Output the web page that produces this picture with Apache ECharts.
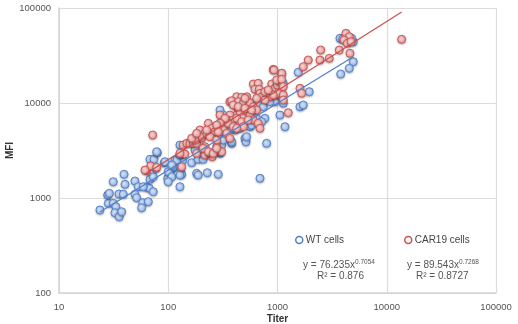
<!DOCTYPE html>
<html>
<head>
<meta charset="utf-8">
<script src="https://cdn.jsdelivr.net/npm/echarts@6/dist/echarts.min.js"></script>
<style>
html,body{margin:0;padding:0;background:#fff;}
#c{width:518px;height:324px;}
</style>
</head>
<body>
<div id="c"></div>
<script>
// ---- Data ----
var xTicks = [10, 100, 1000, 10000, 100000];
var yTicks = [100, 1000, 10000, 100000];

var wtTiter = [23.7,28.3,27.9,28.9,31.4,39.4,40.2,35.4,38.8,31.4,33.2,32.5,35.6,37.5,49.6,53.2,49.6,51.4,58.4,65.7,57.1,63.5,67.1,73.0,68.1,73.0,77.3,68.1,74.1,79.4,92.0,98.9,104,110,115,128,133,130,136,164,188,209,182,188,228,287,298,692,78.4,93.4,111,120,128,128,298,319,309,381,408,454,601,667,741,949,1130,1054,1017,1171,560,381,504,515,796,768,3734,3953,4941,4778,4941,4542,3789,1550,1955,1607,1723,1093,1130,176,209,298,309,319,298,854,645,381,454,580,522,717,319,100,108,108,100,128,59];
var wtMFI   = [748,880,1075,1121,1484,1776,1394,1102,1094,880,810,700,636,717,1510,1315,1094,1007,892,914,790,1315,1265,1165,1574,1676,2054,2555,2555,2998,2353,1613,1846,2054,2512,1315,1776,2054,2512,2353,2555,2555,1820,1746,1846,1776,2955,1613,3072,2411,2135,2512,2836,3613,8439,7475,4988,3765,5197,7790,9526,9927,9143,10320,9927,7475,13150,5630,5630,3914,4250,3900,3765,6901,47990,47180,44190,47990,27210,23190,20200,21050,13150,9143,9526,20540,16120,3201,2955,3072,3613,5630,6114,10320,6901,5416,5416,5867,4418,6356,4079,1892,2226,1676,1484,1746,1315];

var carTiter = [63.5,69.1,78.4,133,133,142,182,217,253,238,287,72.1,61.3,137,148,158,170,182,202,195,217,233,250,268,298,319,241,217,278,309,367,408,438,423,367,347,394,298,355,916,1093,601,667,622,681,885,949,996,1054,796,854,983,1093,692,717,768,423,470,523,381,438,486,560,601,645,523,454,331,298,225,195,278,486,560,601,667,692,1256,4236,4542,4062,4354,4708,4609,3679,2485,2449,2979,1913,1723,929,983,1093,1130,1607,1017,1130,1665,916,1130,13703,128,176,164,182,209,233,258,278,278,504,768,824,645,394,438,504,580,423,470,540,394,486,423,343,287,367];
var carMFI   = [1938,2172,2105,2135,2906,2906,2955,2836,2721,2998,3201,4604,1971,3613,3765,3765,3765,3765,4250,5197,4798,6114,5416,4988,5867,5416,4418,3467,3467,3072,10320,9526,8439,7475,7475,6624,6624,7475,6114,22630,20540,15850,16120,13940,13940,15850,14280,15470,16760,13150,11650,12140,12650,12650,11650,10760,11650,11480,11650,10570,10320,9927,10070,9143,8439,8098,7790,6901,6114,5197,4418,4079,6901,7475,6624,6114,5416,7904,54160,49880,46040,42510,44190,33360,36130,36130,28350,29540,28350,24110,22260,17460,17760,14850,14280,12650,12140,12650,12140,10760,46830,2955,4079,4250,4798,3336,3072,2955,3336,5867,11210,13150,13710,11210,9526,9143,8795,8439,6901,6356,6624,5630,5630,5416,4798,4988,4250];

// Trendline equations printed on the chart: y = a * x^b
var wtFit  = {a: 76.235, b: 0.7054, r2: '0.876',  label: 'WT cells'};
var carFit = {a: 89.543, b: 0.7268, r2: '0.8727', label: 'CAR19 cells'};

// ---- Build ----
function pairs(xs, ys){ var o=[]; for(var i=0;i<xs.length;i++) o.push([xs[i], ys[i]]); return o; }
function fitLine(xs, f){
  var lo = Math.min.apply(null, xs), hi = Math.max.apply(null, xs);
  return [[lo, f.a*Math.pow(lo, f.b)], [hi, f.a*Math.pow(hi, f.b)]];
}
function plain(v){ return String(Math.round(v)); }

var chart = echarts.init(document.getElementById('c'), null, {renderer:'canvas'});
var FONT = '"Liberation Sans", Arial, sans-serif';

function dotStyle(inner, outer, border){
  return {
    color: new echarts.graphic.RadialGradient(0.4, 0.35, 0.75, [
      {offset:0, color: inner}, {offset:1, color: outer}
    ]),
    borderColor: border, borderWidth: 1,
    shadowBlur: 2, shadowColor: 'rgba(0,0,0,0.25)', shadowOffsetY: 1, opacity: 1
  };
}

var option = {
  animation: false,
  backgroundColor: '#fff',
  textStyle: {fontFamily: FONT},
  grid: {left: 59, right: 22, top: 8, bottom: 31, containLabel: false, outerBoundsMode: 'none'},
  xAxis: {
    type: 'log', logBase: 10, min: xTicks[0], max: xTicks[xTicks.length-1],
    name: 'Titer', nameLocation: 'middle', nameGap: 21, nameMoveOverlap: false,
    nameTextStyle: {fontFamily: FONT, fontWeight: 'bold', fontSize: 10, color: '#333'},
    axisLine: {lineStyle: {color: '#d4d4d4', width: 1.5}},
    axisTick: {show: false},
    splitLine: {show: true, lineStyle: {color: '#dcdcdc', width: 1.2}},
    minorTick: {show: false},
    axisLabel: {fontFamily: FONT, fontSize: 9.5, color: '#555', margin: 9, formatter: plain, showMaxLabel: true, showMinLabel: true}
  },
  yAxis: {
    type: 'log', logBase: 10, min: yTicks[0], max: yTicks[yTicks.length-1],
    name: 'MFI', nameLocation: 'middle', nameGap: 44, nameRotate: 90, nameMoveOverlap: false,
    nameTextStyle: {fontFamily: FONT, fontWeight: 'bold', fontSize: 10, color: '#333'},
    axisLine: {show: true, lineStyle: {color: '#d4d4d4', width: 1.5}},
    axisTick: {show: false},
    splitLine: {show: true, lineStyle: {color: '#dcdcdc', width: 1.2}},
    axisLabel: {fontFamily: FONT, fontSize: 9.5, color: '#555', margin: 8, formatter: plain}
  },
  legend: [
    {data: [wtFit.label], left: 290, top: 230, itemWidth: 7, itemHeight: 7, itemGap: 4,
     icon: 'circle', textStyle: {fontFamily: FONT, fontSize: 10, color: '#444', padding: [0,0,0,-2]},
     itemStyle: {color: '#fff', borderColor: '#4f7fc8', borderWidth: 1.5}},
    {data: [carFit.label], left: 399, top: 230, itemWidth: 7, itemHeight: 7, itemGap: 4,
     icon: 'circle', textStyle: {fontFamily: FONT, fontSize: 10, color: '#444', padding: [0,0,0,-2]},
     itemStyle: {color: '#fff', borderColor: '#c9504d', borderWidth: 1.5}}
  ],
  graphic: [
    {type: 'text', left: 303, top: 259, z: 100,
     style: {text: '{a|y = ' + wtFit.a + 'x}{b|' + wtFit.b + '}', fill: '#555',
       rich: {a: {fontFamily: FONT, fontSize: 10, fill: '#555', lineHeight: 13},
              b: {fontFamily: FONT, fontSize: 6.5, fill: '#555', verticalAlign: 'top', lineHeight: 13, padding: [0,0,6,0]}}}},
    {type: 'text', left: 317, top: 271, z: 100,
     style: {text: 'R\u00B2 = ' + wtFit.r2, fill: '#555', font: '10px ' + FONT}},
    {type: 'text', left: 407, top: 259, z: 100,
     style: {text: '{a|y = ' + carFit.a + 'x}{b|' + carFit.b + '}', fill: '#555',
       rich: {a: {fontFamily: FONT, fontSize: 10, fill: '#555', lineHeight: 13},
              b: {fontFamily: FONT, fontSize: 6.5, fill: '#555', verticalAlign: 'top', lineHeight: 13, padding: [0,0,6,0]}}}},
    {type: 'text', left: 416, top: 271, z: 100,
     style: {text: 'R\u00B2 = ' + carFit.r2, fill: '#555', font: '10px ' + FONT}}
  ],
  series: [
    {name: wtFit.label, type: 'scatter', data: pairs(wtTiter, wtMFI), symbol: 'circle', symbolSize: 8,
     itemStyle: dotStyle('#dce8fc', '#85ace9', '#5685cf'), z: 2},
    {name: carFit.label, type: 'scatter', data: pairs(carTiter, carMFI), symbol: 'circle', symbolSize: 8,
     itemStyle: dotStyle('#fbdcdc', '#e88686', '#cc5a57'), z: 3},
    {name: 'wtTrend', type: 'line', data: fitLine(wtTiter, wtFit), showSymbol: false, symbol: 'none',
     lineStyle: {color: '#4f7fc8', width: 1.2}, z: 5, silent: true},
    {name: 'carTrend', type: 'line', data: fitLine(carTiter, carFit), showSymbol: false, symbol: 'none',
     lineStyle: {color: '#c9504d', width: 1.2}, z: 5, silent: true}
  ]
};
chart.setOption(option);
</script>
</body>
</html>
